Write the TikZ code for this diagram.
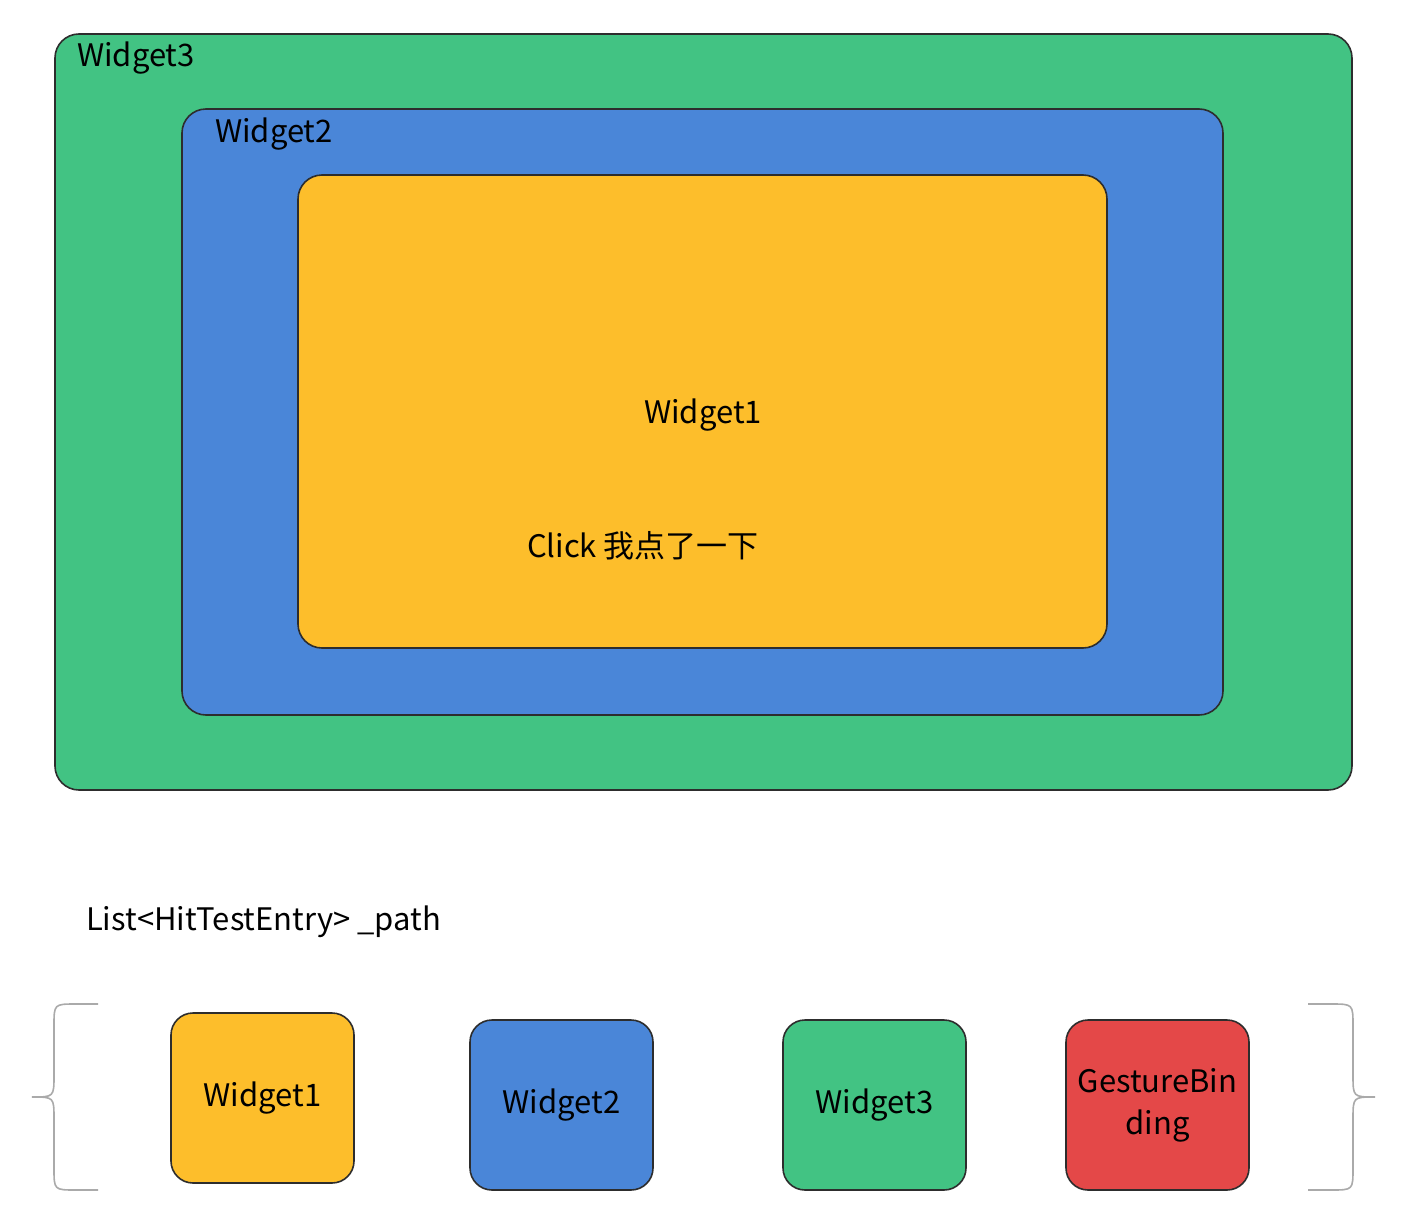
\documentclass[tikz,border=0pt]{standalone}
\usepackage{fontspec}
\setmainfont{Noto Sans CJK SC}
\usepackage{tikz}
\usetikzlibrary{positioning}

\definecolor{wgreen}{RGB}{66,195,131}
\definecolor{wblue}{RGB}{74,134,216}
\definecolor{wyellow}{RGB}{253,190,43}
\definecolor{wred}{RGB}{228,72,72}
\definecolor{wline}{RGB}{45,45,45}
\definecolor{wbrace}{RGB}{170,170,170}

\begin{document}
\begin{tikzpicture}[x=1pt,y=-1pt,
					every node/.style = {font=\fontsize{31}{38}\selectfont, text=black},
					line width=1.6pt]

\tikzstyle{layer_box} = [draw=wline, rounded corners=24, inner sep=0]
\tikzstyle{entry_box} = [draw=wline, rounded corners=22, inner sep=0, minimum width=183, minimum height=170, align=center]
\tikzstyle{brace_line} = [draw=wbrace, line width=1.6pt]

\useasboundingbox (0,0) rectangle (1408,1218);

% nested widgets
\node[layer_box, fill=wgreen, minimum width=1297, minimum height=756] (w3) at (703.5,412) {};
\node[layer_box, fill=wblue, minimum width=1041, minimum height=606] (w2) at (702.5,412) {};
\node[layer_box, fill=wyellow, minimum width=809, minimum height=473] (w1) at (702.5,411.5) {};

\node[anchor=west] (w3_label) at (73,58) {Widget3};
\node[anchor=west] (w2_label) at (211,134) {Widget2};
\node (w1_label) at (703,415) {Widget1};
\node (click_label) at (643,546) {Click 我点了一下};

% hit test path
\node[anchor=west] (path_label) at (82,922) {List<HitTestEntry> \_path};

\node[entry_box, fill=wyellow] (e1) at (262.5,1098) {Widget1};
\node[entry_box, fill=wblue] (e2) at (561.5,1105) {Widget2};
\node[entry_box, fill=wgreen] (e3) at (874.5,1105) {Widget3};
\node[entry_box, fill=wred] (e4) at (1157.5,1105) {GestureBin\\[4pt]ding};

% braces
\draw[brace_line] (98,1004) -- (76,1004) .. controls (54,1004) .. (54,1026) -- (54,1075)
	.. controls (54,1097) .. (32,1097) .. controls (54,1097) .. (54,1119) -- (54,1168)
	.. controls (54,1190) .. (76,1190) -- (98,1190);
\draw[brace_line] (1308,1004) -- (1331,1004) .. controls (1353,1004) .. (1353,1026) -- (1353,1075)
	.. controls (1353,1097) .. (1375,1097) .. controls (1353,1097) .. (1353,1119) -- (1353,1168)
	.. controls (1353,1190) .. (1331,1190) -- (1308,1190);
\end{tikzpicture}
\end{document}
